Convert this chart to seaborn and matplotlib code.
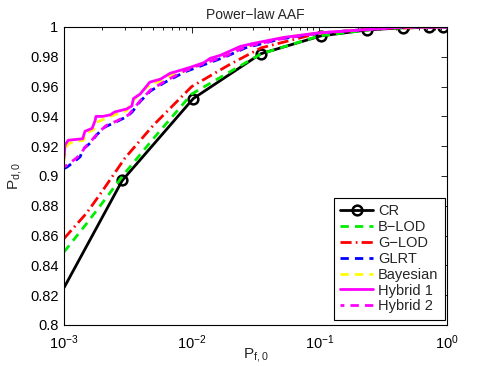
import numpy as np
import pandas as pd
import seaborn as sns
import matplotlib
matplotlib.use("Agg")
import matplotlib.pyplot as plt
from matplotlib.ticker import LogLocator, FixedLocator

# ---- data ----
cr_x = [1.0e-3, 2.86e-3, 1.03e-2, 3.47e-2, 0.1025, 0.236, 0.452, 0.72, 0.93]
cr_y = [0.825, 0.897, 0.952, 0.982, 0.994, 0.998, 0.9995, 1.0, 1.0]

blod_x = [1.0e-3, 1.5e-3, 2.0e-3, 3.0e-3, 5.0e-3, 1.0e-2, 2.0e-2, 3.5e-2, 0.1, 0.3, 1.0]
blod_y = [0.849, 0.868, 0.882, 0.902, 0.925, 0.955, 0.970, 0.982, 0.994, 0.999, 1.0]

glod_x = [1.0e-3, 1.5e-3, 2.0e-3, 3.0e-3, 5.0e-3, 1.0e-2, 2.0e-2, 3.5e-2, 0.1, 0.3, 1.0]
glod_y = [0.858, 0.875, 0.890, 0.912, 0.934, 0.960, 0.975, 0.986, 0.996, 0.999, 1.0]

glrt_x = [1.0e-3, 1.056e-3, 1.22e-3, 1.34e-3, 1.41e-3, 1.6e-3, 1.82e-3, 2.1e-3, 2.52e-3,
          3.13e-3, 3.42e-3, 3.95e-3, 4.74e-3, 6.21e-3, 8.92e-3, 1.28e-2, 1.84e-2,
          2.64e-2, 4.97e-2, 0.1024, 0.211, 0.436, 1.0]
glrt_y = [0.905, 0.906, 0.910, 0.913, 0.918, 0.922, 0.928, 0.933, 0.936,
          0.940, 0.943, 0.950, 0.957, 0.963, 0.970, 0.975, 0.980,
          0.986, 0.992, 0.996, 0.998, 1.0, 1.0]

bayes_x = [1.0e-3, 1.03e-3, 1.1e-3, 1.42e-3, 1.5e-3, 1.7e-3, 1.8e-3, 2.3e-3, 3.1e-3, 3.5e-3,
           4.5e-3, 5.7e-3, 7.0e-3, 9.8e-3, 1.4e-2, 2.4e-2, 5.2e-2, 0.1, 0.21, 0.44, 1.0]
bayes_y = [0.910, 0.919, 0.922, 0.924, 0.929, 0.931, 0.936, 0.940, 0.944, 0.951,
           0.960, 0.964, 0.968, 0.972, 0.978, 0.986, 0.993, 0.996, 0.998, 1.0, 1.0]

hyb1_x = [1.0e-3, 1.02e-3, 1.08e-3, 1.4e-3, 1.46e-3, 1.66e-3, 1.75e-3, 1.78e-3, 2.0e-3,
          2.3e-3, 2.5e-3, 3.1e-3, 3.4e-3, 3.5e-3, 3.95e-3, 4.5e-3, 4.7e-3, 5.7e-3, 6.8e-3,
          7.5e-3, 9.8e-3, 1.24e-2, 1.4e-2, 1.68e-2, 2.41e-2, 3.05e-2, 5.25e-2, 9.7e-2,
          0.21, 0.44, 1.0]
hyb1_y = [0.912, 0.921, 0.924, 0.925, 0.930, 0.932, 0.937, 0.940, 0.940,
          0.941, 0.943, 0.945, 0.947, 0.952, 0.955, 0.961, 0.963, 0.965, 0.969,
          0.970, 0.973, 0.976, 0.979, 0.981, 0.987, 0.989, 0.993, 0.996,
          0.998, 1.0, 1.0]

hyb2_x = [1.0e-3, 1.08e-3, 1.25e-3, 1.36e-3, 1.45e-3, 1.65e-3, 1.85e-3, 2.15e-3, 2.6e-3,
          3.2e-3, 3.5e-3, 4.0e-3, 4.8e-3, 6.3e-3, 9.0e-3, 1.3e-2, 1.9e-2, 2.7e-2,
          5.0e-2, 0.1, 0.21, 0.44, 1.0]
hyb2_y = [0.906, 0.908, 0.912, 0.915, 0.919, 0.924, 0.929, 0.934, 0.937,
          0.941, 0.945, 0.951, 0.958, 0.964, 0.971, 0.976, 0.981, 0.987,
          0.992, 0.996, 0.998, 1.0, 1.0]

sns.set_style("white")
plt.rcParams["font.family"] = ["Liberation Sans", "DejaVu Sans"]
plt.rcParams["mathtext.fontset"] = "custom"
plt.rcParams["mathtext.rm"] = "Liberation Sans"
plt.rcParams["mathtext.it"] = "Liberation Sans:italic"
plt.rcParams["mathtext.default"] = "regular"

W, H = 494, 366
fig = plt.figure(figsize=(W / 100, H / 100), dpi=100)
ax = fig.add_axes([64 / W, (H - 325) / H, (447 - 64) / W, (325 - 27) / H])

series = [
    ("CR", cr_x, cr_y, "black", "-", "o"),
    ("B\u2212LOD", blod_x, blod_y, "#00ee00", (0, (3, 2.2)), None),
    ("G\u2212LOD", glod_x, glod_y, "red", (0, (4, 1.5, 0.6, 1.5)), None),
    ("GLRT", glrt_x, glrt_y, "blue", (0, (3, 2.2)), None),
    ("Bayesian", bayes_x, bayes_y, "yellow", (0, (3, 2.2)), None),
    ("Hybrid 1", hyb1_x, hyb1_y, "magenta", "-", None),
    ("Hybrid 2", hyb2_x, hyb2_y, "magenta", (1.6, (3, 2.2)), None),
]

for name, xs, ys, col, ls, mk in series:
    df = pd.DataFrame({"x": xs, "y": ys})
    kw = {}
    if mk:
        # first point is the left edge of the axes, no marker there
        kw = dict(marker=mk, markersize=7, markevery=list(range(1, len(xs))),
                  markerfacecolor="none", markeredgecolor=col, markeredgewidth=1.8)
    sns.lineplot(data=df, x="x", y="y", ax=ax, color=col, linestyle=ls,
                 linewidth=2, estimator=None, sort=False, label=name, **kw)

ax.set_xscale("log")
ax.set_xlim(1e-3, 1)
ax.set_ylim(0.8, 1.0)
yt = np.arange(0.8, 1.0001, 0.02)
ax.yaxis.set_major_locator(FixedLocator(yt))
ax.set_yticklabels(["0.8", "0.82", "0.84", "0.86", "0.88", "0.9",
                    "0.92", "0.94", "0.96", "0.98", "1"])
ax.xaxis.set_major_locator(LogLocator(base=10, numticks=10))
ax.xaxis.set_minor_locator(LogLocator(base=10, subs=np.arange(2, 10), numticks=10))
ax.tick_params(which="both", direction="in", top=True, right=True,
               labelsize=10.5, colors="black")
ax.tick_params(axis="y", pad=4)
ax.tick_params(axis="x", pad=6)
ax.tick_params(which="major", length=4, width=0.6)
ax.tick_params(which="minor", length=2, width=0.6)
for s in ax.spines.values():
    s.set_color("black")
    s.set_linewidth(0.8)

ax.set_title("Power\u2212law AAF", fontsize=10, pad=6)
ax.set_xlabel("$P_{f,0}$", fontsize=11, labelpad=-4)
ax.set_ylabel("$P_{d,0}$", fontsize=11, labelpad=4)

leg = ax.legend(loc="lower right", bbox_to_anchor=(445 / W, (H - 320) / H),
                bbox_transform=fig.transFigure, fontsize=10.5, frameon=True,
                fancybox=False, edgecolor="black", framealpha=1,
                handlelength=2.25, labelspacing=0.13, borderpad=0.45,
                handletextpad=0.35, borderaxespad=0)
leg.get_frame().set_linewidth(0.8)

fig.savefig("out.png", dpi=100)
